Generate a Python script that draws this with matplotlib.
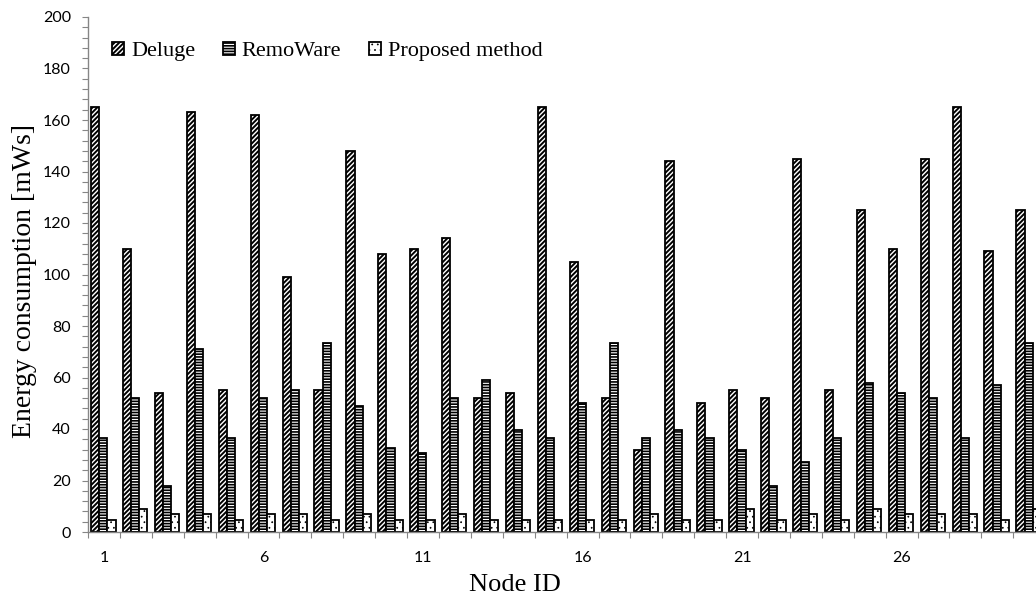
import matplotlib
matplotlib.use("Agg")
import matplotlib.pyplot as plt
from matplotlib.ticker import MultipleLocator
import numpy as np

# ---- data ----
node_ids = list(range(1, 31))
deluge = [165, 110, 54, 163, 55, 162, 99, 55, 148, 108,
          110, 114, 52, 54, 165, 105, 52, 32, 144, 50,
          55, 52, 145, 55, 125, 110, 145, 165, 109, 125]
remoware = [36.5, 52, 18, 71, 36.5, 52, 55, 73.5, 49, 32.5,
            30.5, 52, 59, 39.5, 36.5, 50, 73.5, 36.5, 39.5, 36.5,
            32, 18, 27, 36.5, 58, 54, 52, 36.5, 57, 73.5]
proposed = [4.5, 9, 7, 7, 4.5, 7, 7, 4.5, 7, 4.5,
            4.5, 7, 4.5, 4.5, 4.5, 4.5, 4.5, 7, 4.5, 4.5,
            9, 4.5, 7, 4.5, 9, 7, 7, 7, 4.5, 9]
series_names = ["Deluge", "RemoWare", "Proposed method"]
xtick_labels = ["1", "6", "11", "16", "21", "26"]
xtick_pos = [1, 6, 11, 16, 21, 26]
y_label = "Energy consumption [mWs]"
x_label = "Node ID"

plt.rcParams['hatch.color'] = 'black'
plt.rcParams['hatch.linewidth'] = 1.4

W, H = 1036, 597
fig = plt.figure(figsize=(W / 100, H / 100), dpi=100)
fig.patch.set_facecolor('white')

left_px, right_px, top_px, bot_px = 88, 1045.2, 17, 532
ax = fig.add_axes([left_px / W, (H - bot_px) / H,
                   (right_px - left_px) / W, (bot_px - top_px) / H])

x = np.array(node_ids, dtype=float)
bw = 0.255
shift = -0.02
hatches = ['///////', '------', '...']
hatch_lws = [1.4, 1.2, 0.5]
for k, (vals, name, h, hlw) in enumerate(zip([deluge, remoware, proposed],
                                             series_names, hatches, hatch_lws)):
    bars = ax.bar(x + shift + (k - 1) * bw, vals, width=bw, facecolor='white',
                  edgecolor='black', linewidth=1.3, hatch=h, label=name, zorder=2)
    for b in bars:
        if hasattr(b, 'set_hatch_linewidth'):
            b.set_hatch_linewidth(hlw)

ax.set_xlim(0.5, 30.5)
ax.set_ylim(0, 200)

for s in ['top', 'right']:
    ax.spines[s].set_visible(False)
spine_col = '#868686'
for s in ['left', 'bottom']:
    ax.spines[s].set_color(spine_col)
    ax.spines[s].set_linewidth(1.0)

ax.yaxis.set_major_locator(MultipleLocator(20))
ax.yaxis.set_minor_locator(MultipleLocator(4))
ax.tick_params(axis='y', which='both', direction='out', length=4.3, width=0.8,
               color=spine_col, pad=8.0)
ax.tick_params(axis='y', which='major', labelsize=11.5)
for lab in ax.get_yticklabels():
    lab.set_fontfamily('Lato')

ax.set_xticks(np.arange(0.5, 31, 1.0))
ax.set_xticklabels([])
ax.tick_params(axis='x', which='major', direction='out', length=4.3, width=0.8,
               color=spine_col)
ax.set_xticks(xtick_pos, xtick_labels, minor=True)
ax.tick_params(axis='x', which='minor', length=0, pad=14.0, labelsize=11.5)
for lab in ax.get_xticklabels(minor=True):
    lab.set_fontfamily('Lato')

ax.set_ylabel(y_label, fontsize=20, family='Liberation Serif', va='center')
ax.yaxis.set_label_coords((24.5 - left_px) / (right_px - left_px),
                          (bot_px - 281) / (bot_px - top_px))
ax.set_xlabel(x_label, fontsize=19, family='Liberation Serif', va='top')
ax.xaxis.set_label_coords((514.5 - left_px) / (right_px - left_px),
                          (bot_px - 574) / (bot_px - top_px))

leg = ax.legend(loc='center left', bbox_to_anchor=(112 / W, 1 - 51.7 / H),
                bbox_transform=fig.transFigure, ncol=3, frameon=False,
                prop={'family': 'Liberation Serif', 'size': 16},
                handlelength=0.55, handleheight=0.55, handletextpad=0.3,
                columnspacing=1.25, borderpad=0, borderaxespad=0)
for p, hlw in zip(leg.get_patches(), hatch_lws):
    if hasattr(p, 'set_hatch_linewidth'):
        p.set_hatch_linewidth(hlw)

fig.savefig('out.png', dpi=100, facecolor='white')
